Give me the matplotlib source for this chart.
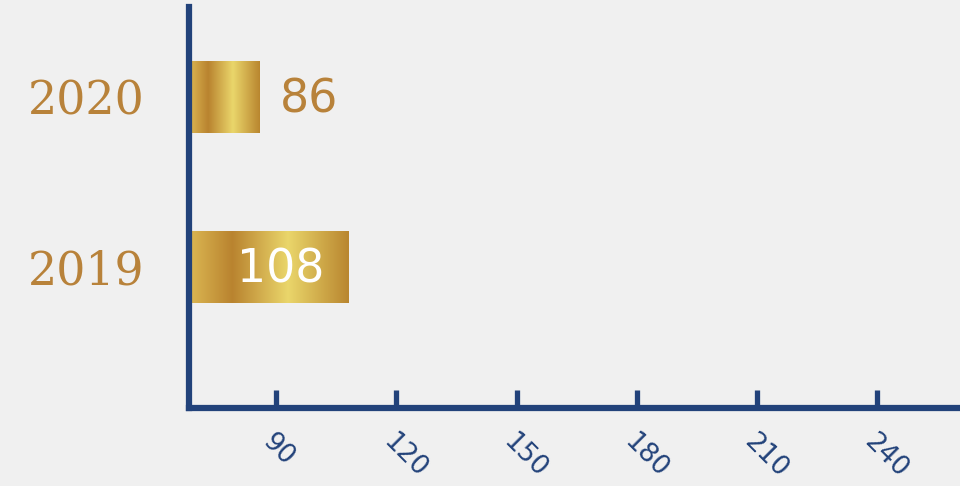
import numpy as np
import matplotlib
matplotlib.use("Agg")
import matplotlib.pyplot as plt
from matplotlib.colors import LinearSegmentedColormap

# Data
years = ["2019", "2020"]
values = [108, 86]
tick_values = [90, 120, 150, 180, 210, 240]
tick_labels = ["90", "120", "150", "180", "210", "240"]

BG = "#f0f0f0"
NAVY = "#22427a"
GOLD_TXT = "#b8823a"

gold = LinearSegmentedColormap.from_list(
    "gold",
    [(0.0, "#dcb853"), (0.27, "#b9832f"), (0.62, "#ead66b"), (1.0, "#b9862f")],
)

fig = plt.figure(figsize=(9.6, 4.86), dpi=100, facecolor=BG)
ax = fig.add_axes([189 / 960, 1 - 408 / 486, 1 - 189 / 960, (408 - 7) / 486])
ax.set_facecolor(BG)

ypos = np.arange(len(years))
bar_h = 0.424
bars = ax.barh(ypos, values, height=bar_h, left=0, color="none", edgecolor="none", zorder=2)

ax.set_xlim(68.3, 260.6)
ax.set_ylim(-0.83, 1.53)

grad = np.linspace(0, 1, 256).reshape(1, -1)
for b, v in zip(bars, values):
    x0 = ax.get_xlim()[0]
    y0 = b.get_y()
    im = ax.imshow(grad, cmap=gold, aspect="auto",
                   extent=[x0, v, y0, y0 + b.get_height()], zorder=2,
                   interpolation="bilinear")
    im.set_clip_path(b)

# value labels
for y, v in zip(ypos, values):
    if v > 100:
        ax.annotate(str(v), (v, y), xytext=(-17, -2), textcoords="offset points",
                    ha="right", va="center", fontsize=33, color="white",
                    family="DejaVu Sans", zorder=3)
    else:
        ax.annotate(str(v), (v, y), xytext=(14, -2), textcoords="offset points",
                    ha="left", va="center", fontsize=33, color=GOLD_TXT,
                    family="DejaVu Sans", zorder=3)

# spines
for s in ["top", "right"]:
    ax.spines[s].set_visible(False)
for s in ["left", "bottom"]:
    ax.spines[s].set_color(NAVY)
    ax.spines[s].set_linewidth(4.5)
    ax.spines[s].set_capstyle("projecting")

# x ticks
ax.set_xticks(tick_values)
ax.set_xticklabels(tick_labels)
ax.tick_params(axis="x", direction="in", length=13, width=3.8, color=NAVY,
               labelcolor=NAVY, labelsize=19, pad=15)
for lbl in ax.get_xticklabels():
    lbl.set_rotation(-45)
    lbl.set_rotation_mode("anchor")
    lbl.set_ha("left")
    lbl.set_va("top")
    lbl.set_family("DejaVu Sans")

# y ticks (years)
ax.set_yticks(ypos)
ax.set_yticklabels(years)
ax.tick_params(axis="y", length=0, pad=116, labelsize=33, labelcolor=GOLD_TXT)
for lbl in ax.get_yticklabels():
    lbl.set_ha("left")
    lbl.set_family("DejaVu Serif")

fig.savefig("out.png", dpi=100, facecolor=BG)
